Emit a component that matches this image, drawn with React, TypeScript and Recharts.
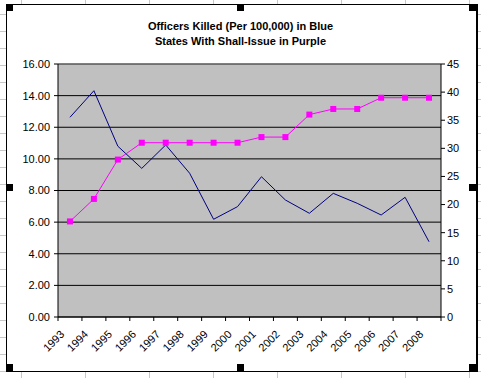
import { ComposedChart, Line, XAxis, YAxis, CartesianGrid, ReferenceLine } from "recharts"

const years = [
  "1993", "1994", "1995", "1996", "1997", "1998", "1999", "2000",
  "2001", "2002", "2003", "2004", "2005", "2006", "2007", "2008",
]
// officers killed per 100,000 (blue, left axis)
const officersKilled = [12.63, 14.31, 10.8, 9.4, 10.88, 9.09, 6.18, 6.98, 8.87, 7.4, 6.56, 7.82, 7.19, 6.45, 7.57, 4.76]
// number of shall-issue states (purple, right axis)
const shallIssueStates = [17, 21, 28, 31, 31, 31, 31, 31, 32, 32, 36, 37, 37, 39, 39, 39]
const leftTicks = [0, 2, 4, 6, 8, 10, 12, 14, 16]
const rightTicks = [0, 5, 10, 15, 20, 25, 30, 35, 40, 45]

const data = years.map((year, i) => ({
  pos: i + 0.5,
  year,
  killed: officersKilled[i],
  shall: shallIssueStates[i],
}))
const edgeTicks = [...years.map((_, i) => i), years.length]

const FONT = "'Liberation Sans', Arial, sans-serif"
const W = 481
const H = 378
const PLOT_W = 383
const STEP = PLOT_W / years.length

function YearTick(props: any) {
  const { x, y, payload } = props
  const idx = payload.value
  if (idx >= years.length) return null
  const cx = x + STEP / 2
  return (
    <text
      x={cx - 5}
      y={y + 14}
      textAnchor="end"
      fontSize={11}
      fontFamily={FONT}
      fill="#000"
      transform={`rotate(-45 ${cx - 5} ${y + 14})`}
    >
      {years[idx]}
    </text>
  )
}

function SquareDot(props: any) {
  const { cx, cy } = props
  if (cx == null || cy == null) return null
  return <rect x={cx - 3} y={cy - 3} width={6} height={6} fill="#FF00FF" />
}

function Handle({ x, y }: { x: number; y: number }) {
  return <div style={{ position: "absolute", left: x, top: y, width: 7, height: 7, background: "#000" }} />
}

export default function App() {
  const cols = Array.from({ length: 8 }, (_, i) => 21.5 + i * 64)
  const rows = Array.from({ length: 22 }, (_, i) => 14.5 + i * 17)
  return (
    <div style={{ position: "absolute", left: 0, top: 0, width: W, height: H, background: "#fff", overflow: "hidden" }}>
      <svg width={W} height={H} style={{ position: "absolute", left: 0, top: 0 }}>
        {cols.map((x) => (
          <line key={"c" + x} x1={x} x2={x} y1={0} y2={H} stroke="#c8c8c8" />
        ))}
        {rows.map((y) => (
          <line key={"r" + y} x1={0} x2={W} y1={y} y2={y} stroke="#c8c8c8" />
        ))}
      </svg>
      <div
        style={{
          position: "absolute",
          left: 6,
          top: 4,
          width: 469,
          height: 366,
          background: "#fff",
          borderLeft: "1px solid #000",
          borderTop: "1px solid #000",
          borderBottom: "1px solid #000",
          borderRight: "2px solid #000",
        }}
      />
      <div
        style={{
          position: "absolute",
          left: 0,
          top: 19,
          width: W,
          textAlign: "center",
          fontFamily: FONT,
          fontWeight: "bold",
          fontSize: 11,
          lineHeight: "15px",
          color: "#000",
        }}
      >
        Officers Killed (Per 100,000) in Blue
        <br />
        States With Shall-Issue in Purple
      </div>
      <div style={{ position: "absolute", left: 0, top: 0 }}>
        <ComposedChart width={W} height={H} data={data} margin={{ top: 64, right: 5, bottom: 11, left: 8 }}>
          <CartesianGrid yAxisId="left" vertical={false} stroke="#000" fill="#C0C0C0" fillOpacity={1} />
          <XAxis
            dataKey="pos"
            type="number"
            domain={[0, years.length]}
            ticks={edgeTicks}
            interval={0}
            height={50}
            tickSize={4}
            tickMargin={0}
            tick={<YearTick />}
            stroke="#000"
            tickLine={{ stroke: "#000" }}
            axisLine={{ stroke: "#000" }}
          />
          <YAxis
            yAxisId="left"
            orientation="left"
            domain={[0, 16]}
            ticks={leftTicks}
            interval={0}
            width={50}
            tickSize={4}
            tickMargin={4}
            tickFormatter={(v: number) => v.toFixed(2)}
            tick={{ fontSize: 11, fontFamily: FONT, fill: "#000" }}
            stroke="#000"
          />
          <YAxis
            yAxisId="right"
            orientation="right"
            domain={[0, 45]}
            ticks={rightTicks}
            interval={0}
            width={35}
            tickSize={4}
            tickMargin={2}
            tick={{ fontSize: 11, fontFamily: FONT, fill: "#000" }}
            stroke="#000"
          />
          <ReferenceLine yAxisId="left" y={16} stroke="#808080" />
          <Line
            yAxisId="left"
            type="linear"
            dataKey="killed"
            stroke="#000080"
            strokeWidth={1}
            dot={false}
            isAnimationActive={false}
          />
          <Line
            yAxisId="right"
            type="linear"
            dataKey="shall"
            stroke="#FF00FF"
            strokeWidth={1}
            dot={<SquareDot />}
            isAnimationActive={false}
          />
        </ComposedChart>
      </div>
      <Handle x={6} y={4} />
      <Handle x={237} y={4} />
      <Handle x={469} y={4} />
      <Handle x={6} y={184} />
      <Handle x={469} y={184} />
      <Handle x={6} y={364} />
      <Handle x={237} y={364} />
      <Handle x={469} y={364} />
    </div>
  )
}
